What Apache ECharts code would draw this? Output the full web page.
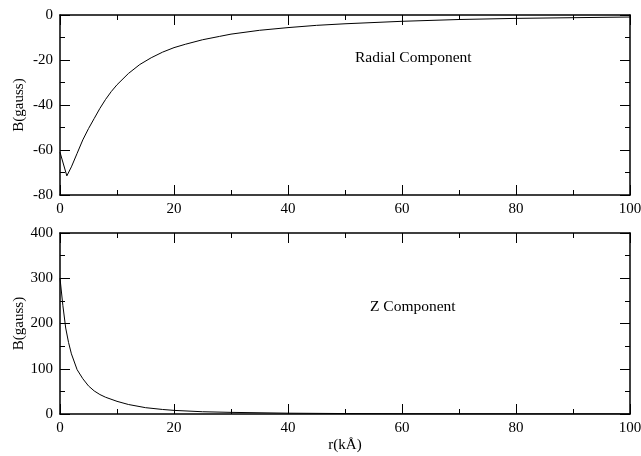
<!DOCTYPE html>
<html>
<head>
<meta charset="utf-8">
<script src="https://cdn.jsdelivr.net/npm/echarts@6/dist/echarts.min.js"></script>
<style>
html,body{margin:0;padding:0;background:#fff;}
#c{width:641px;height:456px;}
</style>
</head>
<body>
<div id="c"></div>
<script>
// Radial component: r (kÅ) and B (gauss)
var radialR = [0, 1.2, 2, 3, 4, 5, 6, 7, 8, 9, 10, 12, 14, 16, 18, 20, 22, 25, 28, 30, 35, 40, 45, 50, 60, 70, 80, 90, 100];
var radialB = [-61, -71.5, -67.5, -61.5, -55.5, -50.5, -46, -41.5, -37.5, -34, -31, -26, -22, -19, -16.5, -14.5, -13, -11, -9.5, -8.5, -6.8, -5.6, -4.6, -3.9, -2.8, -2.0, -1.5, -1.2, -0.9];
// Z component
var zR = [0, 0.5, 1, 1.5, 2, 3, 4, 5, 6, 7, 8, 10, 12, 15, 18, 20, 25, 30, 40, 50, 60, 80, 100];
var zB = [300, 240, 190, 158, 133, 98, 78, 62, 51, 43, 37, 28, 21, 14, 10, 8, 5, 3.6, 1.8, 1.0, 0.6, 0.3, 0.2];
// axis settings
var xTicks = {min: 0, max: 100, interval: 20};
var yTopTicks = {min: -80, max: 0, interval: 20};
var yBotTicks = {min: 0, max: 400, interval: 100};
var labels = {radial: 'Radial Component', z: 'Z Component', xName: 'r(kÅ)', yName: 'B(gauss)'};

var FONT = 'Liberation Serif';
var chart = echarts.init(document.getElementById('c'));

function pair(xs, ys){ return xs.map(function(x,i){return [x, ys[i]];}); }

function axisBase(showLabels){
  return {
    type: 'value',
    axisLine: {show: true, onZero: false, lineStyle: {color: '#000', width: 1.5}},
    axisTick: {show: true, inside: true, length: 10, lineStyle: {color: '#000', width: 1}},
    minorTick: {show: true, splitNumber: 2, length: 5, lineStyle: {color: '#000', width: 1}},
    splitLine: {show: false},
    axisLabel: {show: showLabels, color: '#000', fontFamily: FONT, fontSize: 15, margin: 7},
    nameTextStyle: {color: '#000', fontFamily: FONT, fontSize: 15},
    nameMoveOverlap: false
  };
}
function mk(extra, showLabels){ return Object.assign(axisBase(showLabels), extra); }

var option = {
  backgroundColor: '#fff',
  animation: false,
  grid: [
    {left: 60, right: 11, top: 15, height: 180, containLabel: false, outerBoundsMode: 'none'},
    {left: 60, right: 11, top: 233, height: 181, containLabel: false, outerBoundsMode: 'none'}
  ],
  xAxis: [
    mk({gridIndex: 0, position: 'bottom', min: xTicks.min, max: xTicks.max, interval: xTicks.interval}, true),
    mk({gridIndex: 0, position: 'top', min: xTicks.min, max: xTicks.max, interval: xTicks.interval}, false),
    mk({gridIndex: 1, position: 'bottom', min: xTicks.min, max: xTicks.max, interval: xTicks.interval,
        name: labels.xName, nameLocation: 'middle', nameGap: 24}, true),
    mk({gridIndex: 1, position: 'top', min: xTicks.min, max: xTicks.max, interval: xTicks.interval}, false)
  ],
  yAxis: [
    mk({gridIndex: 0, position: 'left', min: yTopTicks.min, max: yTopTicks.max, interval: yTopTicks.interval,
        name: labels.yName, nameLocation: 'middle', nameGap: 33}, true),
    mk({gridIndex: 0, position: 'right', min: yTopTicks.min, max: yTopTicks.max, interval: yTopTicks.interval}, false),
    mk({gridIndex: 1, position: 'left', min: yBotTicks.min, max: yBotTicks.max, interval: yBotTicks.interval,
        name: labels.yName, nameLocation: 'middle', nameGap: 33}, true),
    mk({gridIndex: 1, position: 'right', min: yBotTicks.min, max: yBotTicks.max, interval: yBotTicks.interval}, false)
  ],
  series: [
    {type: 'line', xAxisIndex: 0, yAxisIndex: 0, data: pair(radialR, radialB), showSymbol: false, smooth: false,
     lineStyle: {color: '#000', width: 1}},
    {type: 'line', xAxisIndex: 2, yAxisIndex: 2, data: pair(zR, zB), showSymbol: false, smooth: false,
     lineStyle: {color: '#000', width: 1}}
  ],
  graphic: [
    {type: 'text', left: 414 - 59, top: 50, style: {text: labels.radial, fill: '#000', font: '15.5px "Liberation Serif"'}},
    {type: 'text', left: 415 - 45, top: 299, style: {text: labels.z, fill: '#000', font: '15.5px "Liberation Serif"'}}
  ]
};
chart.setOption(option);
</script>
</body>
</html>
